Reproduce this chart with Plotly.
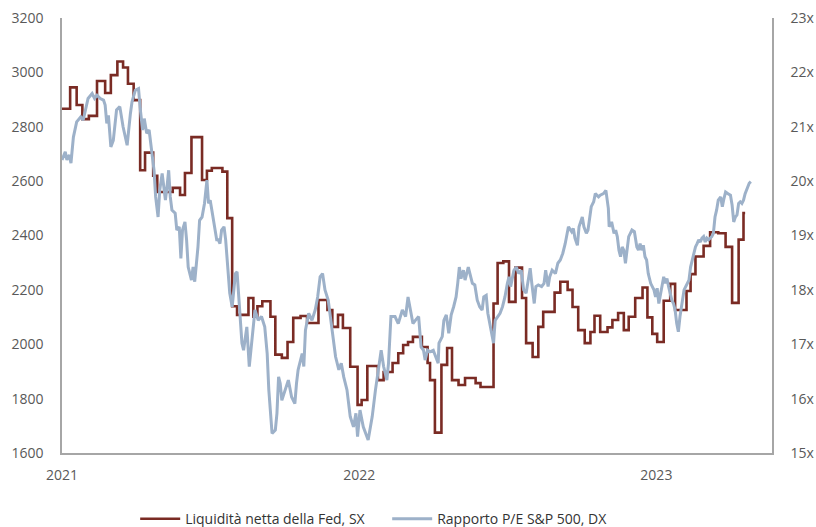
import pandas as pd
import plotly.graph_objects as go

START = "2021-01-01"

# Fed net liquidity (left axis), step series: days since 2021-01-01 and value
liq_days = [0, 10, 18, 25, 33, 43, 53, 60, 68, 75,
            81, 88, 96, 102, 112, 117, 136, 145, 151, 159,
            172, 178, 184, 197, 203, 209, 215, 229, 235, 240,
            246, 256, 262, 270, 277, 284, 293, 301, 315, 326,
            332, 339, 345, 354, 363, 368, 375, 388, 395, 406,
            413, 419, 425, 431, 442, 449, 452, 458, 466, 473,
            479, 487, 495, 508, 514, 530, 535, 542, 549, 557,
            565, 570, 578, 585, 591, 605, 612, 621, 627, 634,
            642, 649, 654, 661, 670, 676, 683, 690, 696, 704,
            713, 719, 725, 731, 739, 747, 753, 767, 772, 778,
            788, 796, 806, 815, 823, 831, 837, 839]
liq_values = [2866, 2945, 2880, 2828, 2840, 2968, 2924, 2990, 3040, 3018,
              2958, 2898, 2640, 2705, 2620, 2560, 2575, 2549, 2630, 2762,
              2604, 2638, 2648, 2635, 2464, 2140, 2108, 2170, 2101, 2140,
              2158, 2101, 1962, 1950, 2008, 2097, 2104, 2078, 2163, 2126,
              2064, 2108, 2060, 1917, 1777, 1795, 1920, 1868, 1898, 1931,
              1967, 1997, 2008, 2027, 1990, 1931, 1868, 1675, 1924, 1986,
              1868, 1850, 1876, 1857, 1843, 2150, 2299, 2305, 2156, 2282,
              2170, 2004, 1953, 2064, 2119, 2190, 2230, 2200, 2137, 2052,
              2004, 2045, 2105, 2045, 2062, 2089, 2115, 2052, 2101, 2170,
              2209, 2099, 2038, 2008, 2160, 2222, 2126, 2196, 2258, 2323,
              2362, 2412, 2408, 2358, 2152, 2385, 2483, 2483]

# S&P 500 P/E ratio (right axis): days since 2021-01-01 and value
pe_days = [0, 4, 6, 9, 11, 14, 18, 23, 26, 30,
           32, 37, 40, 43, 47, 51, 53, 55, 57, 60,
           63, 67, 71, 75, 80, 84, 86, 90, 94, 96,
           99, 101, 104, 107, 110, 113, 115, 118, 120, 123,
           125, 127, 129, 131, 133, 135, 139, 141, 144, 146,
           148, 151, 153, 155, 159, 161, 163, 167, 169, 172,
           175, 178, 180, 182, 184, 187, 190, 192, 194, 196,
           199, 201, 204, 206, 209, 211, 213, 215, 221, 223,
           227, 230, 232, 237, 241, 245, 249, 252, 254, 256,
           258, 262, 264, 266, 268, 270, 274, 278, 282, 286,
           288, 290, 295, 297, 299, 303, 307, 311, 314, 317,
           320, 323, 327, 329, 333, 336, 340, 343, 346, 350,
           354, 358, 361, 363, 366, 370, 376, 381, 385, 389,
           392, 395, 399, 401, 404, 409, 413, 418, 422, 425,
           428, 431, 434, 438, 441, 444, 446, 449, 452, 456,
           459, 462, 463, 467, 469, 472, 475, 478, 481, 484,
           486, 488, 490, 493, 495, 499, 501, 504, 507, 510,
           513, 516, 518, 521, 523, 526, 528, 530, 532, 535,
           538, 541, 544, 547, 549, 551, 553, 555, 558, 561,
           564, 567, 570, 573, 575, 577, 580, 582, 585, 589,
           592, 594, 597, 599, 602, 606, 609, 612, 615, 618,
           620, 622, 626, 628, 630, 633, 635, 639, 641, 644,
           646, 648, 650, 653, 655, 659, 661, 665, 668, 671,
           672, 675, 678, 680, 682, 684, 686, 688, 690, 692,
           694, 696, 698, 700, 703, 706, 708, 710, 712, 714,
           716, 718, 720, 723, 725, 727, 729, 731, 733, 735,
           737, 739, 741, 743, 745, 747, 749, 751, 753, 755,
           757, 759, 762, 764, 766, 768, 770, 772, 774, 776,
           778, 780, 782, 784, 786, 788, 790, 792, 794, 796,
           798, 800, 802, 804, 806, 809, 811, 813, 815, 818,
           821, 823, 825, 827, 829, 831, 833, 835, 837, 839,
           842, 844, 846]
pe_ratio = [20.39, 20.54, 20.39, 20.48, 20.33, 20.81, 21.09, 21.18, 21.12, 21.37,
            21.52, 21.61, 21.52, 21.58, 21.52, 21.49, 21.40, 21.06, 21.21, 20.63,
            20.75, 21.31, 21.37, 21.00, 20.66, 21.24, 21.46, 21.67, 21.70, 21.34,
            20.94, 21.15, 20.88, 20.94, 20.57, 20.20, 19.71, 19.34, 19.83, 20.14,
            19.90, 19.65, 19.90, 20.20, 19.71, 19.47, 19.41, 19.10, 19.16, 18.58,
            19.10, 19.25, 18.92, 18.42, 18.18, 18.42, 18.15, 18.79, 19.28, 19.34,
            19.59, 20.02, 19.59, 19.65, 19.47, 19.16, 18.92, 18.92, 18.85, 19.10,
            19.16, 18.92, 18.30, 17.94, 17.69, 17.94, 18.30, 18.33, 17.02, 16.89,
            17.32, 16.59, 16.89, 17.63, 17.44, 17.51, 17.32, 16.83, 16.16, 15.67,
            15.36, 15.42, 15.73, 16.40, 16.28, 15.97, 16.16, 16.34, 16.03, 15.91,
            16.28, 16.53, 16.83, 16.59, 17.26, 17.57, 17.44, 17.63, 17.87, 18.24,
            18.30, 18.00, 17.81, 17.57, 17.14, 16.77, 16.53, 16.65, 16.40, 16.16,
            15.67, 15.48, 15.73, 15.30, 15.79, 15.48, 15.24, 15.67, 16.16, 16.59,
            16.89, 16.59, 16.34, 16.65, 17.51, 17.51, 17.38, 17.63, 17.51, 17.87,
            17.63, 17.38, 17.44, 17.51, 16.95, 16.89, 16.71, 16.89, 16.86, 16.89,
            16.77, 16.65, 17.02, 17.14, 17.44, 17.54, 17.20, 17.54, 17.69, 17.87,
            18.12, 18.42, 18.21, 18.36, 18.18, 18.42, 18.30, 18.12, 18.09, 17.81,
            17.69, 17.63, 17.87, 17.90, 17.57, 17.32, 17.14, 17.02, 17.44, 17.51,
            17.57, 17.69, 17.87, 18.12, 18.24, 18.06, 18.24, 18.36, 18.42, 18.30,
            18.36, 18.00, 17.94, 18.24, 18.40, 18.12, 17.75, 18.06, 18.09, 18.06,
            18.12, 18.36, 18.06, 18.24, 18.36, 18.30, 18.49, 18.55, 18.67, 18.85,
            19.04, 19.16, 19.07, 19.13, 18.95, 18.82, 19.16, 19.34, 19.16, 19.04,
            19.10, 19.31, 19.53, 19.62, 19.77, 19.71, 19.74, 19.77, 19.83, 19.50,
            19.16, 19.25, 19.04, 19.10, 18.98, 18.73, 18.61, 18.79, 18.73, 18.49,
            18.73, 18.98, 19.04, 19.10, 19.07, 18.79, 18.73, 18.85, 18.73, 18.82,
            18.61, 18.55, 18.30, 18.12, 18.06, 18.00, 17.87, 18.03, 17.75, 17.94,
            18.06, 18.24, 18.12, 18.21, 18.06, 17.94, 17.81, 17.75, 17.63, 17.38,
            17.23, 17.51, 17.87, 18.00, 18.06, 18.12, 18.18, 18.42, 18.55, 18.67,
            18.79, 18.85, 18.92, 18.88, 18.95, 18.98, 18.88, 18.95, 18.92, 18.95,
            18.98, 19.04, 19.34, 19.47, 19.65, 19.71, 19.53, 19.68, 19.80, 19.77,
            19.74, 19.56, 19.25, 19.34, 19.38, 19.59, 19.62, 19.59, 19.65, 19.77,
            19.90, 19.96, 19.99]

x_tick_dates = ["2021-01-01", "2022-01-01", "2023-01-01"]
x_tick_labels = ["2021", "2022", "2023"]
x_range = ["2021-01-01", "2023-05-23"]

series_names = ["Liquidità netta della Fed, SX", "Rapporto P/E S&P 500, DX"]

assert len(liq_days) == len(liq_values)
assert len(pe_days) == len(pe_ratio)

base = pd.Timestamp(START)
liq_dates = base + pd.to_timedelta(liq_days, unit="D")
pe_dates = base + pd.to_timedelta(pe_days, unit="D")

BROWN = "#7a2b24"
BLUE = "#9db1c9"
AXIS = "#a6a6a6"
TICK = "#595959"
FONT = "Open Sans, Noto Sans, sans-serif"

fig = go.Figure()
fig.add_trace(go.Scatter(
    x=liq_dates, y=liq_values, name=series_names[0], mode="lines",
    line=dict(color=BROWN, width=2.6, shape="hv"), yaxis="y"))
fig.add_trace(go.Scatter(
    x=pe_dates, y=pe_ratio, name=series_names[1], mode="lines",
    line=dict(color=BLUE, width=3), yaxis="y2"))

fig.update_layout(
    width=816, height=527,
    margin=dict(l=62, r=44, t=18, b=74, autoexpand=False),
    paper_bgcolor="white", plot_bgcolor="white",
    font=dict(family=FONT, size=14, color=TICK),
    showlegend=True,
    legend=dict(orientation="h", x=0.458, xanchor="center", y=-0.152, yanchor="middle",
                font=dict(family=FONT, size=14, color="#333333"),
                entrywidth=197, entrywidthmode="pixels",
                itemwidth=40, traceorder="normal"),
    xaxis=dict(type="date", range=x_range, tickvals=x_tick_dates, ticktext=x_tick_labels,
               showgrid=False, zeroline=False, showline=True, linecolor=AXIS, linewidth=1.5,
               ticks="", ticklabelstandoff=8, tickfont=dict(size=14, color=TICK)),
    yaxis=dict(range=[1600, 3200], dtick=200, showgrid=False, zeroline=False,
               showline=True, linecolor=AXIS, linewidth=1.5, ticks="",
               ticklabelstandoff=14, tickfont=dict(size=14, color=TICK)),
    yaxis2=dict(range=[15, 23], dtick=1, overlaying="y", side="right", ticksuffix="x",
                showgrid=False, zeroline=False, showline=True, linecolor=AXIS, linewidth=1.5,
                ticks="", ticklabelstandoff=14, tickfont=dict(size=14, color=TICK)),
)

fig.write_html("out.html")
